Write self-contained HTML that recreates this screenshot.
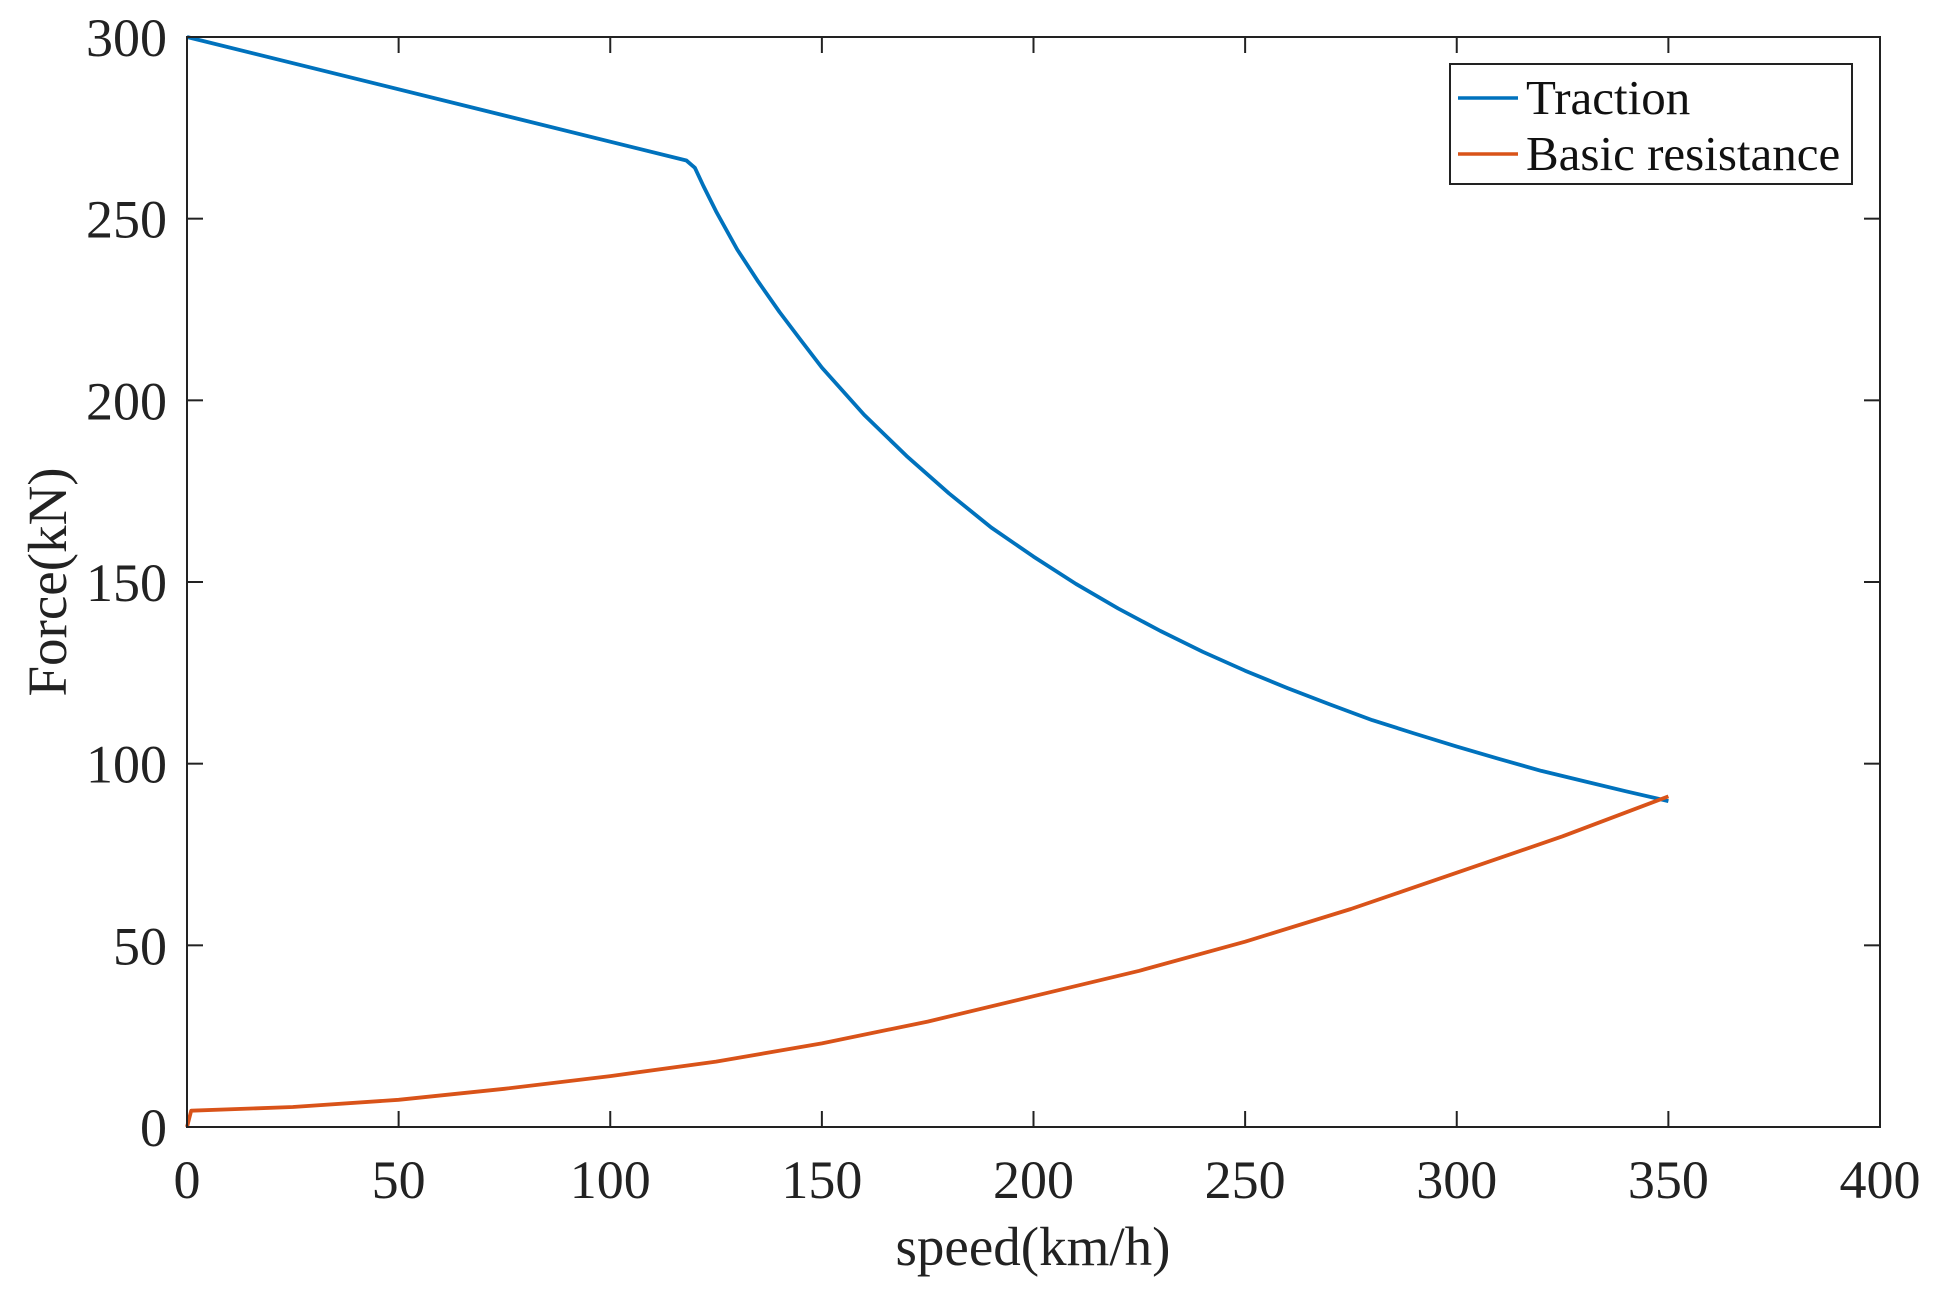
<!DOCTYPE html>
<html><head><meta charset="utf-8">
<style>
html,body{margin:0;padding:0;background:#fff;}
svg{display:block;font-family:"Liberation Serif",serif;}
</style></head>
<body>
<svg id="chart" width="1937" height="1300" viewBox="0 0 1937 1300">
<rect x="0" y="0" width="1937" height="1300" fill="#fff"/>
<g id="plot"></g>
<g id="axes"></g>
<g>
<rect x="1450" y="64" width="402" height="120" fill="#fff" stroke="#222" stroke-width="2"/>
<line x1="1458" y1="98" x2="1518" y2="98" stroke="#0072BD" stroke-width="3.5"/>
<text x="1526" y="114" font-size="49" fill="#111">Traction</text>
<line x1="1458" y1="154" x2="1518" y2="154" stroke="#D95319" stroke-width="3.5"/>
<text x="1526" y="170" font-size="49" fill="#111">Basic resistance</text>
</g>
<text x="1033" y="1265" font-size="55" text-anchor="middle" fill="#222">speed(km/h)</text>
<text transform="translate(66,582) rotate(-90)" font-size="55" text-anchor="middle" fill="#222">Force(kN)</text>
</svg>
<script>
const tractionSpeed=[0,118,120,122,125,130,135,140,145,150,160,170,180,190,200,210,220,230,240,250,260,270,280,290,300,310,320,330,340,350];
const tractionForce=[300,266,264,259,252,241.5,232.6,224.3,216.6,209,196,184.7,174.4,165,157,149.5,142.7,136.5,130.8,125.6,120.8,116.3,112,108.3,104.7,101.3,98,95.2,92.4,89.7];
const resistSpeed=[0,1,25,50,75,100,125,150,175,200,225,250,275,300,325,350];
const resistForce=[0,4.5,5.5,7.5,10.5,14,18,23,29,36,43,51,60,70,80,91];
const xTicks=[0,50,100,150,200,250,300,350,400];
const yTicks=[0,50,100,150,200,250,300];

const L=187,R=1880,T=37,B=1127;
const sx=v=>L+(v-0)/400*(R-L);
const sy=v=>B-(v-0)/300*(B-T);
const NS="http://www.w3.org/2000/svg";
const plot=document.getElementById('plot');
const axes=document.getElementById('axes');
function mk(tag,attrs,parent){const e=document.createElementNS(NS,tag);for(const k in attrs)e.setAttribute(k,attrs[k]);parent.appendChild(e);return e;}

const frame=mk('rect',{x:L,y:T,width:R-L,height:B-T,fill:'none',stroke:'#222','stroke-width':2},axes);



xTicks.forEach(t=>{
  const x=sx(t);
  const a=mk('line',{x1:x,y1:B,x2:x,y2:B-16,stroke:'#222','stroke-width':2},axes);
  
  
  const b=mk('line',{x1:x,y1:T,x2:x,y2:T+16,stroke:'#222','stroke-width':2},axes);
  
  
  const tx=mk('text',{x:x,y:1198,'font-size':54,'text-anchor':'middle',fill:'#222'},axes);
  tx.textContent=t;
  
  
});
yTicks.forEach(t=>{
  const y=sy(t);
  const a=mk('line',{x1:L,y1:y,x2:L+16,y2:y,stroke:'#222','stroke-width':2},axes);
  
  
  const b=mk('line',{x1:R,y1:y,x2:R-16,y2:y,stroke:'#222','stroke-width':2},axes);
  
  
  const tx=mk('text',{x:167,y:y+19,'font-size':54,'text-anchor':'end',fill:'#222'},axes);
  tx.textContent=t;
  
  
});

function path(xs,ys){return xs.map((v,i)=>(i?'L':'M')+sx(v).toFixed(1)+','+sy(ys[i]).toFixed(1)).join(' ');}
const p1=mk('path',{d:path(tractionSpeed,tractionForce),fill:'none',stroke:'#0072BD','stroke-width':3.8,'stroke-linejoin':'round'},plot);


const p2=mk('path',{d:path(resistSpeed,resistForce),fill:'none',stroke:'#D95319','stroke-width':3.8,'stroke-linejoin':'round'},plot);


</script>
</body></html>
